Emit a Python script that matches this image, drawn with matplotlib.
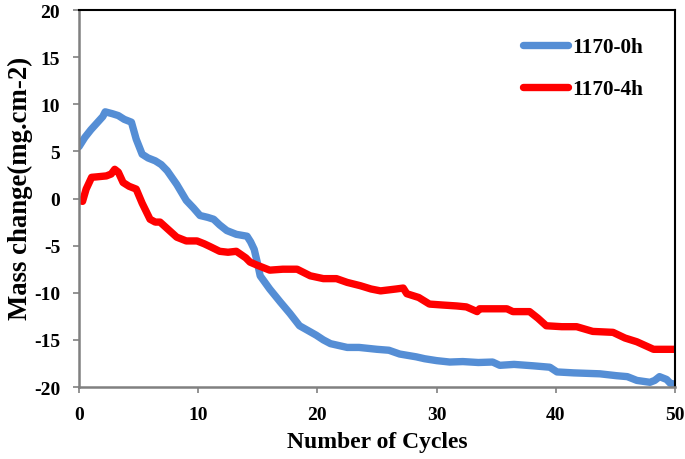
import matplotlib
matplotlib.use("Agg")
import matplotlib.pyplot as plt

series_names = ["1170-0h", "1170-4h"]

x_0h = [0, 0.5, 1.0, 1.5, 2.0, 2.2, 2.8, 3.3, 3.8, 4.4, 4.6, 4.8, 5.3, 5.8, 6.4, 6.9, 7.4, 8.2, 9.0,
        9.6, 10.15, 10.8, 11.3, 11.8, 12.4, 13.2, 14.1, 14.4, 14.7, 15.0, 15.2, 16.0, 16.9, 17.7,
        18.5, 19.2, 19.9, 20.5, 21.1, 22.5, 23.5, 25.0, 26.0, 26.9, 28.3, 29.0, 30.0, 31.1, 32.2,
        33.5, 34.7, 35.3, 36.5, 38.1, 39.5, 40.1, 41.5, 43.7, 45.1, 46.0, 46.8, 47.9, 48.3, 48.7,
        49.3, 49.6, 50.0]
y_0h = [5.5, 6.5, 7.3, 8.0, 8.7, 9.2, 9.0, 8.8, 8.4, 8.1, 7.2, 6.3, 4.7, 4.3, 4.0, 3.6, 2.95, 1.5, -0.2,
        -1.0, -1.8, -2.0, -2.2, -2.8, -3.4, -3.8, -4.0, -4.6, -5.4, -7.0, -8.2, -9.6, -11.0, -12.2,
        -13.5, -14.0, -14.5, -15.0, -15.4, -15.8, -15.8, -16.0, -16.1, -16.5, -16.8, -17.0, -17.2, -17.35, -17.3,
        -17.4, -17.35, -17.7, -17.6, -17.75, -17.9, -18.4, -18.5, -18.6, -18.8, -18.9, -19.3, -19.5, -19.3, -18.9,
        -19.2, -19.6, -19.7]

x_4h = [0, 0.3, 0.6, 1.06, 1.5, 2.3, 2.7, 3.0, 3.3, 3.7, 4.2, 4.8, 5.3, 5.96, 6.4, 6.8, 7.5, 8.2, 9.0,
        9.9, 10.5, 11.0, 11.8, 12.5, 13.2, 14.0, 14.35, 15.0, 16.0, 17.1, 18.3, 19.4, 20.5, 21.6, 22.5,
        23.6, 24.5, 25.3, 26.6, 27.2, 27.5, 28.5, 29.4, 30.5, 31.7, 32.5, 33.4, 33.6, 35.9, 36.4, 37.8,
        38.5, 39.2, 40.5, 41.75, 43.1, 44.8, 45.8, 46.8, 47.5, 48.2, 49.0, 50.0]
y_4h = [-0.2, -0.3, 1.0, 2.25, 2.3, 2.4, 2.6, 3.1, 2.8, 1.7, 1.3, 1.0, -0.5, -2.2, -2.5, -2.5, -3.3, -4.1, -4.5,
        -4.5, -4.8, -5.1, -5.6, -5.7, -5.6, -6.3, -6.75, -7.1, -7.6, -7.5, -7.5, -8.2, -8.5, -8.5, -8.9,
        -9.25, -9.6, -9.8, -9.6, -9.5, -10.1, -10.5, -11.2, -11.3, -11.4, -11.5, -12.0, -11.7, -11.7, -12.0, -12.0,
        -12.7, -13.5, -13.6, -13.6, -14.1, -14.2, -14.8, -15.2, -15.6, -16.0, -16.0, -16.0]

x_ticks = [0, 10, 20, 30, 40, 50]
y_ticks = [-20, -15, -10, -5, 0, 5, 10, 15, 20]
x_label = "Number of Cycles"
y_label = "Mass change(mg.cm-2)"

plt.rcParams['font.family'] = ['Liberation Serif', 'DejaVu Serif']
plt.rcParams['font.weight'] = 'bold'
plt.rcParams['axes.unicode_minus'] = False

fig = plt.figure(figsize=(6.85, 4.6), dpi=100)
ax = fig.add_axes([0.1153, 0.1565, 0.8701, 0.8195])

ax.plot(x_0h, y_0h, color='#558ED5', lw=5.3, solid_capstyle='round', solid_joinstyle='round', label=series_names[0])
ax.plot(x_4h, y_4h, color='#FF0000', lw=5.3, solid_capstyle='round', solid_joinstyle='round', label=series_names[1])

ax.set_xlim(0, 50)
ax.set_ylim(-20, 20)
ax.set_xticks(x_ticks)
ax.set_yticks(y_ticks)
ax.tick_params(axis='both', direction='out', length=4.5, width=1.2, color='#808080',
               labelsize=14)
ax.tick_params(axis='x', pad=9)
ax.tick_params(axis='y', pad=9)
for lab in ax.get_xticklabels() + ax.get_yticklabels():
    lab.set_fontweight('bold')

for s in ['left', 'bottom']:
    ax.spines[s].set_color('#808080')
    ax.spines[s].set_linewidth(1.8)
for s in ['top', 'right']:
    ax.spines[s].set_color('black')
    ax.spines[s].set_linewidth(1.5)

ax.set_xlabel(x_label, fontsize=17, fontweight='bold', labelpad=6)
ax.set_ylabel(y_label, fontsize=19.3, fontweight='bold')
ax.yaxis.set_label_coords(-0.077, 0.53)

leg = ax.legend(loc='upper right', bbox_to_anchor=(0.972, 0.968), frameon=False,
                handlelength=2.15, handletextpad=0.2, labelspacing=1.05,
                borderaxespad=0.3, prop={'weight': 'bold', 'size': 15.3})
for line in leg.get_lines():
    line.set_linewidth(5.3)

fig.savefig("out.png", dpi=100)
